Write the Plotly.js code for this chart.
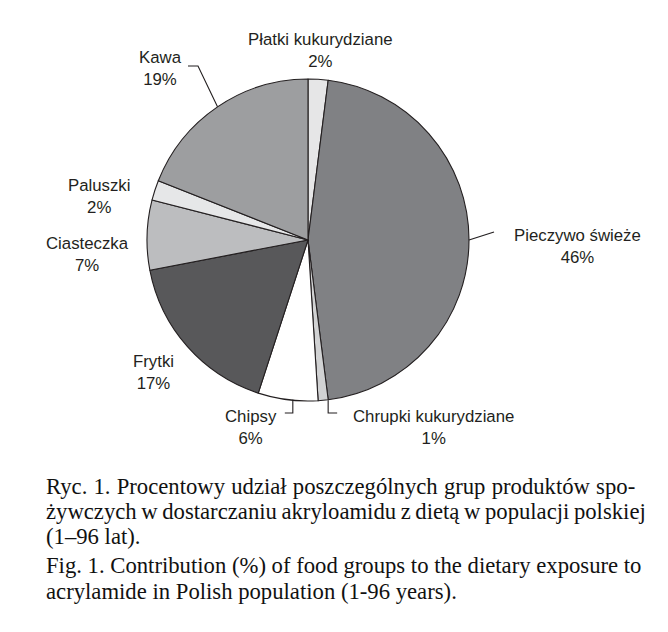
<!DOCTYPE html>
<html>
<head>
<meta charset="utf-8">
<script src="https://cdn.plot.ly/plotly-3.0.1.min.js"></script>
<style>html,body{margin:0;padding:0;background:#fff;}#chart{width:668px;height:632px;}</style>
</head>
<body>
<div id="chart"></div>
<script>
// ---- data ----
const categories = ["Płatki kukurydziane", "Pieczywo świeże", "Chrupki kukurydziane", "Chipsy", "Frytki", "Ciasteczka", "Paluszki", "Kawa"];
const shares = [2, 46, 1, 6, 17, 7, 2, 19];
const pctLabels = ["2%", "46%", "1%", "6%", "17%", "7%", "2%", "19%"];
const captionPL = [
  "Ryc. 1. Procentowy udział poszczególnych grup produktów spo-",
  "żywczych w dostarczaniu akryloamidu z dietą w populacji polskiej",
  "(1–96 lat)."
];
const captionEN = [
  "Fig. 1. Contribution (%) of food groups to the dietary exposure to",
  "acrylamide in Polish population (1-96 years)."
];

// ---- styling / layout ----
const W = 668, H = 632;
const colors = ["#e6e6e7", "#808184", "#d1d2d3", "#ffffff", "#58585a", "#bcbdbf", "#e6e7e8", "#9d9ea0"];
const cx = 308, cy = 240, R = 161;
const px = x => x / W;
const py = y => 1 - y / H;

// label centre positions (pixels) and leader-line elbows (null = no leader)
const labelPos = [
  {x: 320, y: 51, leader: null},
  {x: 577, y: 247, leader: {ex: 494, ey: 232}},
  {x: 433, y: 427, leader: {vertical: true, shift: 5, ey: 413, dx: 9}},
  {x: 251, y: 427, leader: {vertical: true, shift: 5, ey: 413, dx: -8}},
  {x: 153, y: 372, leader: null},
  {x: 87, y: 255, leader: null},
  {x: 100, y: 196, leader: null},
  {x: 160, y: 68, leader: {ex: 198, ey: 66, dx: -10}}
];

const total = shares.reduce((a, b) => a + b, 0);
let cum = 0;
const shapes = [];
const annotations = [];
const lineStyle = {color: "#231f20", width: 1.1};
shares.forEach((v, i) => {
  const mid = (cum + v / 2) / total * 2 * Math.PI; // clockwise from 12 o'clock
  cum += v;
  let sx = cx + R * Math.sin(mid), sy = cy - R * Math.cos(mid);
  const lp = labelPos[i];
  const L = lp.leader;
  if (L) {
    let path;
    if (L.vertical) {
      sx += L.shift;
      path = `M${px(sx)},${py(sy)} L${px(sx)},${py(L.ey)} L${px(sx + L.dx)},${py(L.ey)}`;
    } else {
      path = `M${px(sx)},${py(sy)} L${px(L.ex)},${py(L.ey)}`;
      if (L.dx) path += ` L${px(L.ex + L.dx)},${py(L.ey)}`;
    }
    shapes.push({type: "path", xref: "paper", yref: "paper", path: path, line: lineStyle});
  }
  annotations.push({
    xref: "paper", yref: "paper", x: px(lp.x), y: py(lp.y),
    xanchor: "center", yanchor: "middle", showarrow: false, align: "center",
    text: categories[i] + "<br>" + pctLabels[i],
    font: {family: "Liberation Sans, Arial, sans-serif", size: 16.8, color: "#231f20"}
  });
});

// caption (justified lines get a word-spacing tweak)
const capFont = {family: "Liberation Serif, Times New Roman, serif", size: 22.7, color: "#111"};
const wordSpacing = [0.5, -1.1, 0.2, 0, 0];
const capY = [486, 511, 536, 565, 591];
captionPL.concat(captionEN).forEach((t, k) => {
  const ws = k === 2 ? 0 : wordSpacing[k];
  annotations.push({xref: "paper", yref: "paper", x: px(44), y: py(capY[k]),
    xanchor: "left", yanchor: "middle", showarrow: false, align: "left",
    text: ws ? `<span style="word-spacing:${ws}px">${t}</span>` : t,
    font: capFont});
});

const trace = {
  type: "pie",
  labels: categories,
  values: shares,
  sort: false,
  direction: "clockwise",
  rotation: 0,
  textinfo: "none",
  hoverinfo: "none",
  marker: {colors: colors, line: {color: "#231f20", width: 1.1}},
  domain: {x: [px(cx - R), px(cx + R)], y: [py(cy + R), py(cy - R)]}
};

Plotly.newPlot("chart", [trace], {
  width: W, height: H,
  margin: {l: 0, r: 0, t: 0, b: 0},
  showlegend: false,
  paper_bgcolor: "#fff",
  shapes: shapes,
  annotations: annotations
}, {displayModeBar: false, staticPlot: true});
</script>
</body>
</html>
